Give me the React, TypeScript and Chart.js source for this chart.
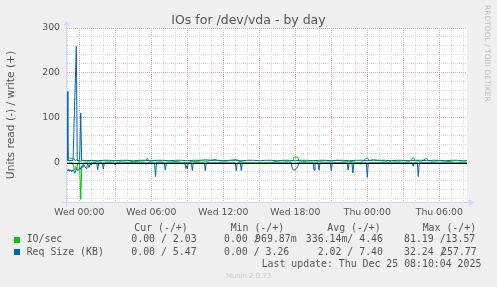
import React, { useEffect, useRef } from "react";
import { Chart, registerables } from "chart.js";

Chart.register(...registerables);

// Time is in hours relative to Wed 00:00 (5-minute samples).
// Read values are stored as magnitudes; Munin plots them below zero.
const reqWrite: [number, number][] = [
  [-1.02, 159], [-0.95, 5], [-0.52, 6], [-0.25, 259], [-0.17, 6], [0.03, 5], [0.12, 111], [0.2, 6],
  [0.6, 5], [1, 6], [1.5, 5], [2, 6], [2.5, 6], [3, 5], [3.5, 6], [4, 6], [4.5, 5], [5, 6],
  [5.5, 6], [6, 5], [6.5, 6], [7, 6], [7.5, 5], [8, 6], [8.5, 6], [9, 5], [9.5, 6], [10, 6],
  [10.5, 7], [11, 6], [11.5, 6], [12, 5], [12.5, 6], [13, 6], [13.5, 5], [14, 6], [14.5, 6],
  [15, 5], [15.5, 6], [16, 6], [16.5, 5], [17, 6], [17.5, 6], [18, 5], [18.5, 6], [19, 6],
  [19.5, 5], [20, 6], [20.5, 6], [21, 5], [21.5, 6], [22, 6], [22.5, 5], [23, 6], [23.5, 6],
  [24, 5], [24.5, 7], [25, 6], [25.5, 6], [26, 5], [26.5, 6], [27, 6], [27.5, 5], [28, 6],
  [28.5, 6], [29, 5], [29.5, 6], [30, 6], [30.5, 5], [31, 6], [31.5, 6], [32, 5], [32.3, 5.5],
];

const ioWrite: [number, number][] = [
  [-1.02, 30], [-0.96, 10], [-0.8, 11], [-0.6, 9], [-0.45, 10], [-0.35, 5], [-0.2, 7], [0, 3],
  [0.3, 6], [0.6, 4], [1, 5], [1.5, 4], [2, 5], [2.5, 4], [3, 5], [3.5, 4], [4, 5], [4.5, 3],
  [5, 4], [5.5, 5], [5.67, 11], [5.8, 4], [6.2, 5], [6.7, 4], [7.2, 5], [7.7, 4], [8.2, 3],
  [8.6, 1], [9.1, 1], [9.3, 4], [9.7, 3], [10.2, 5], [10.7, 4], [11.3, 8], [11.6, 5], [12, 4],
  [12.5, 5], [13.1, 8], [13.3, 4], [13.7, 2], [14, 1], [14.5, 0.5], [15, 1], [15.5, 1],
  [16, 0.5], [16.3, 3], [16.8, 5], [17.3, 4], [17.8, 5], [17.9, 13], [18.2, 13], [18.3, 5],
  [18.6, 3], [19, 4], [19.5, 5], [20, 4], [20.5, 5], [21, 4], [21.5, 6], [22, 4], [22.5, 4],
  [23, 2], [23.4, 0.5], [23.6, 4], [24, 12], [24.15, 5], [24.5, 6], [25, 5], [25.5, 4],
  [25.75, 1], [26, 5], [26.5, 4], [27, 5], [27.5, 4], [27.83, 12], [28, 5], [28.5, 4],
  [28.95, 10], [29.1, 5], [29.5, 4], [30, 5], [30.5, 4], [31, 3], [31.3, 1], [31.8, 2], [32.3, 2],
];

const ioRead: [number, number][] = [
  [-1.02, 0], [-0.55, 0], [-0.47, 10], [-0.38, 16], [-0.3, 8], [-0.2, 12], [-0.12, 0],
  [0.03, 0], [0.12, 81], [0.2, 9], [0.28, 6], [0.37, 0], [32.3, 0],
];

const reqRead: [number, number][] = [
  [-1.02, 15], [-0.95, 17], [-0.87, 14], [-0.78, 18], [-0.7, 15], [-0.62, 19], [-0.53, 15],
  [-0.45, 17], [-0.37, 23], [-0.28, 16], [-0.2, 12], [-0.12, 17], [-0.03, 14], [0.05, 10],
  [0.13, 14], [0.22, 6], [0.3, 10], [0.38, 4], [0.47, 8], [0.56, 12], [0.64, 5], [0.72, 3],
  [0.81, 10], [0.9, 2], [0.98, 5], [1.06, 1], [1.15, 0],
  [1.45, 0], [1.53, 15], [1.62, 0], [1.92, 0], [2.0, 13], [2.08, 0], [2.9, 0], [2.98, 4], [3.06, 0],
  [5.45, 0], [5.53, 3], [5.61, 0], [6.27, 0], [6.35, 30], [6.43, 0], [7.09, 0], [7.17, 16],
  [7.25, 0], [8.8, 0], [8.87, 12], [8.95, 6], [9.0, 13], [9.08, 0], [9.34, 0], [9.42, 17], [9.5, 0],
  [10.42, 0], [10.5, 17], [10.58, 0], [13.0, 0], [13.08, 17], [13.16, 0], [13.42, 0], [13.5, 17],
  [13.58, 0], [17.65, 0], [17.75, 12], [17.85, 16], [18.0, 15], [18.1, 12], [18.2, 8], [18.28, 0],
  [19.48, 0], [19.56, 16], [19.64, 0], [19.9, 0], [19.98, 16], [20.06, 0], [20.92, 0], [21.0, 17],
  [21.08, 0], [22.32, 0], [22.4, 16], [22.48, 0], [22.72, 0], [22.8, 22], [22.88, 0], [23.32, 0],
  [23.4, 3], [23.48, 0], [23.92, 0], [24.0, 32], [24.08, 0], [27.75, 0], [27.83, 7], [27.91, 0],
  [28.17, 0], [28.25, 30], [28.33, 0], [32.3, 0],
];

const xMin = -1.025;
const xMax = 32.308;
const yMin = -86.67;
const yMax = 300;

const xLabelHours = [0, 6, 12, 18, 24, 30];
const xLabelTexts = ["Wed 00:00", "Wed 06:00", "Wed 12:00", "Wed 18:00", "Thu 00:00", "Thu 06:00"];
const yLabelValues = [0, 100, 200, 300];

const statHeaders = ["Cur (-/+)", "Min (-/+)", "Avg (-/+)", "Max (-/+)"];
const seriesNames = ["IO/sec", "Req Size (KB)"];
const seriesColors = ["#00cc00", "#0066b3"];
const ioStats: [string, string][] = [["0.00 ", "2.03"], ["0.00 ", "969.87m"], ["336.14m", "4.46"], ["81.19 ", "13.57"]];
const reqStats: [string, string][] = [["0.00 ", "5.47"], ["0.00 ", "3.26"], ["2.02 ", "7.40"], ["32.24 ", "257.77"]];
const lastUpdate = "Last update: Thu Dec 25 08:10:04 2025";

const TEXT = "#555555";
const MINOR = "#dadada";
const MAJOR = "#ebadad";
const AXIS = "#cfd6f8";

const hourGrid: number[] = [];
for (let h = -1; h <= 32; h++) hourGrid.push(h);
const valueGrid: number[] = [];
for (let v = -80; v <= 300; v += 20) valueGrid.push(v);

const toXY = (arr: [number, number][], sign: number) => arr.map(([x, y]) => ({ x, y: sign * y }));

const muninPlugin = {
  id: "muninDecor",
  beforeDraw(chart: any) {
    const { ctx, chartArea: a } = chart;
    ctx.save();
    ctx.fillStyle = "#ffffff";
    ctx.fillRect(a.left, a.top, a.right - a.left, a.bottom - a.top);
    ctx.restore();
  },
  beforeDatasetsDraw(chart: any) {
    const { ctx, chartArea: a } = chart;
    const x0 = a.left - 0.5;
    const y0 = a.bottom + 0.5;
    ctx.save();
    ctx.strokeStyle = AXIS;
    ctx.fillStyle = AXIS;
    ctx.lineWidth = 1;
    ctx.beginPath();
    ctx.moveTo(x0 - 4, y0);
    ctx.lineTo(a.right + 4, y0);
    ctx.moveTo(x0, y0 + 4);
    ctx.lineTo(x0, a.top - 4.5);
    ctx.stroke();
    ctx.beginPath();
    ctx.moveTo(a.right + 2, y0 - 3);
    ctx.lineTo(a.right + 2, y0 + 3);
    ctx.lineTo(a.right + 7, y0);
    ctx.closePath();
    ctx.fill();
    ctx.beginPath();
    ctx.moveTo(x0 - 3, a.top - 2.5);
    ctx.lineTo(x0 + 3, a.top - 2.5);
    ctx.lineTo(x0, a.top - 7.5);
    ctx.closePath();
    ctx.fill();
    ctx.restore();
  },
  afterDatasetDraw(chart: any, args: any) {
    if (args.index !== 2) return;
    const { ctx, chartArea: a } = chart;
    const y = Math.round(chart.scales.y.getPixelForValue(0));
    ctx.save();
    ctx.fillStyle = "#000000";
    ctx.fillRect(a.left, y, a.right - a.left, 1);
    ctx.restore();
  },
};

export default function App() {
  const ref = useRef<HTMLCanvasElement>(null);

  useEffect(() => {
    document.body.style.margin = "0";
    const canvas = ref.current;
    if (!canvas) return;
    const tickFont = { family: '"DejaVu Sans", sans-serif', size: 9.3 };
    const chart = new Chart(canvas, {
      type: "line",
      data: {
        datasets: [
          { label: "Req Size write", data: toXY(reqWrite, 1), borderColor: seriesColors[1] },
          { label: "IO/sec write", data: toXY(ioWrite, 1), borderColor: seriesColors[0] },
          { label: "Req Size read", data: toXY(reqRead, -1), borderColor: seriesColors[1] },
          { label: "IO/sec read", data: toXY(ioRead, -1), borderColor: seriesColors[0] },
        ].map((d) => ({ ...d, borderWidth: 1, pointRadius: 0, pointHoverRadius: 0, tension: 0, fill: false })),
      },
      options: {
        responsive: false,
        animation: false,
        devicePixelRatio: 1,
        events: [],
        layout: { padding: { left: 0, right: 0, top: 0, bottom: 65 } },
        plugins: {
          legend: { display: false },
          tooltip: { enabled: false },
          title: {
            display: true,
            text: "IOs for /dev/vda - by day",
            color: TEXT,
            font: { family: '"DejaVu Sans", sans-serif', size: 12.5, weight: "normal", lineHeight: 1 },
            padding: { top: 14.5, bottom: 1 },
          },
        },
        scales: {
          x: {
            type: "linear",
            min: xMin,
            max: xMax,
            bounds: "data",
            afterBuildTicks: (axis: any) => {
              axis.ticks = hourGrid.map((v) => ({ value: v }));
            },
            afterFit: (axis: any) => {
              axis.height = 20;
            },
            ticks: {
              autoSkip: false,
              maxRotation: 0,
              minRotation: 0,
              padding: 5,
              color: TEXT,
              font: tickFont,
              callback: (v: any) => {
                const i = xLabelHours.indexOf(Number(v));
                return i >= 0 ? xLabelTexts[i] : "";
              },
            },
            grid: {
              drawTicks: false,
              lineWidth: 1,
              color: (c: any) => (c.tick && c.tick.value % 3 === 0 ? MAJOR : MINOR),
            },
            border: { display: false, dash: [1, 1] },
          },
          y: {
            type: "linear",
            position: "left",
            min: yMin,
            max: yMax,
            bounds: "data",
            afterBuildTicks: (axis: any) => {
              axis.ticks = valueGrid.map((v) => ({ value: v }));
            },
            afterFit: (axis: any) => {
              axis.width = 67;
            },
            ticks: {
              autoSkip: false,
              padding: 7,
              color: TEXT,
              font: tickFont,
              callback: (v: any) => (yLabelValues.includes(Number(v)) ? String(v) : ""),
            },
            grid: {
              drawTicks: false,
              lineWidth: 1,
              color: (c: any) => (c.tick && c.tick.value % 100 === 0 ? MAJOR : MINOR),
            },
            border: { display: false, dash: [1, 1] },
            title: {
              display: true,
              text: "Units read (-) / write (+)",
              color: TEXT,
              font: { family: '"DejaVu Sans", sans-serif', size: 10.7, lineHeight: 1 },
              padding: { top: 5.5, bottom: 0 },
            },
          },
          yr: {
            type: "linear",
            position: "right",
            min: 0,
            max: 1,
            display: true,
            afterFit: (axis: any) => {
              axis.width = 30;
            },
            ticks: { display: false },
            grid: { display: false, drawOnChartArea: false, drawTicks: false },
            border: { display: false },
          },
        },
      },
      plugins: [muninPlugin],
    } as any);
    return () => chart.destroy();
  }, []);

  const mono: React.CSSProperties = {
    position: "absolute",
    fontFamily: '"DejaVu Sans Mono", monospace',
    fontSize: "9.87px",
    lineHeight: "12px",
    color: TEXT,
    whiteSpace: "pre",
  };
  const headerLeft = [134.3, 230.7, 327.3, 422.7];
  const slashRight = [166.9, 259.6, 353.3, 445.6];
  const rowCenters = [239.3, 251.7];

  const renderStats = (stats: [string, string][], cy: number) =>
    stats.map(([r, w], i) => {
      const num = w.replace(/[a-zA-Z]$/, "");
      const shift = num.length > 5 ? 4.5 : 0;
      const wText = num.length < 5 ? w.padStart(w.length + (5 - num.length)) : w;
      return (
        <React.Fragment key={i}>
          <div style={{ ...mono, top: cy - 6, right: 497 - slashRight[i] }}>{r + "/"}</div>
          <div style={{ ...mono, top: cy - 6, left: slashRight[i] - shift }}>{wText}</div>
        </React.Fragment>
      );
    });

  return (
    <div style={{ position: "relative", width: 497, height: 287, background: "#f0f0f0", overflow: "hidden" }}>
      <canvas ref={ref} width={497} height={287} style={{ position: "absolute", left: 0, top: 0, width: 497, height: 287 }} />
      <div
        style={{
          position: "absolute",
          left: 483.2,
          top: 5,
          writingMode: "vertical-rl",
          fontFamily: '"DejaVu Sans", sans-serif',
          fontSize: "7.5px",
          lineHeight: "9px",
          color: "#c0c0c0",
          whiteSpace: "nowrap",
        }}
      >
        RRDTOOL / TOBI OETIKER
      </div>
      {statHeaders.map((h, i) => (
        <div key={h} style={{ ...mono, top: 227.7 - 6, left: headerLeft[i] }}>{h}</div>
      ))}
      {seriesNames.map((n, i) => (
        <React.Fragment key={n}>
          <div style={{ position: "absolute", left: 14, top: rowCenters[i] - 2.5, width: 6, height: 6, background: seriesColors[i] }} />
          <div style={{ ...mono, top: rowCenters[i] - 6, left: 26.7 }}>{n}</div>
        </React.Fragment>
      ))}
      {renderStats(ioStats, rowCenters[0])}
      {renderStats(reqStats, rowCenters[1])}
      <div style={{ ...mono, top: 263.7 - 6, left: 261.7 }}>{lastUpdate}</div>
      <div
        style={{
          position: "absolute",
          left: 0,
          width: 497,
          top: 276 - 5,
          textAlign: "center",
          fontFamily: '"DejaVu Sans", sans-serif',
          fontSize: "6.9px",
          lineHeight: "10px",
          color: "#c8c8c8",
        }}
      >
        Munin 2.0.73
      </div>
    </div>
  );
}
